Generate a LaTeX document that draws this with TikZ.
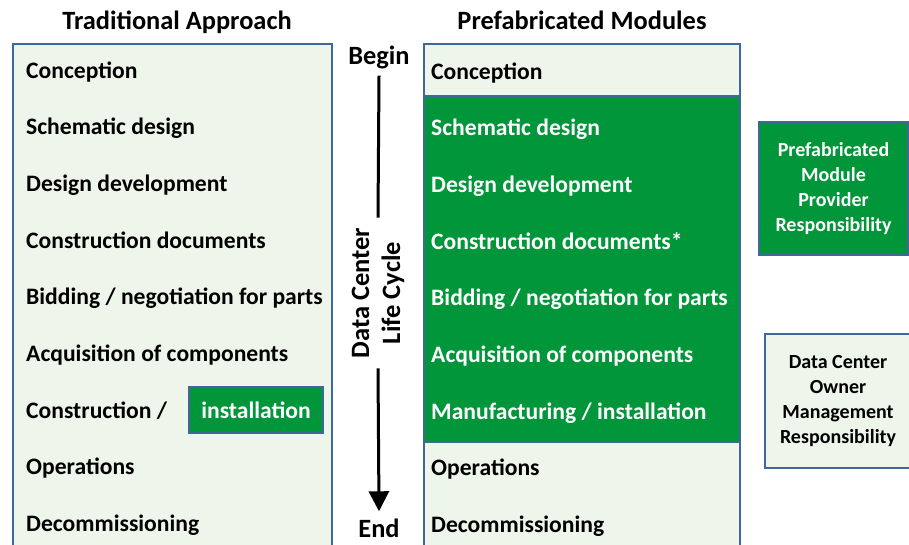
\documentclass[tikz,border=0pt]{standalone}
\usepackage{fontspec}
\setmainfont{Carlito}
\usetikzlibrary{arrows.meta, positioning}
\definecolor{modgreen}{RGB}{0,150,57}
\definecolor{modlight}{RGB}{238,245,234}
\definecolor{modblue}{RGB}{65,102,154}

\begin{document}
\begin{tikzpicture}[
    x = 1pt, y = -1pt,
    panel/.style = {draw=modblue, line width=1.5pt, anchor=north west,
        inner sep=0pt},
    phase/.style = {anchor=base west, inner sep=0pt,
        font=\bfseries\fontsize{23.6}{28}\selectfont},
    heading/.style = {anchor=base, inner sep=0pt,
        font=\bfseries\fontsize{26.4}{31}\selectfont},
    party/.style = {draw=modblue, line width=1.5pt, align=center,
        inner sep=0pt, font=\bfseries\fontsize{20}{25}\selectfont}
  ]
  \useasboundingbox (0,0) rectangle (909,544);
  \clip (0,0) rectangle (909,544);

  % headings
  \node[heading] (tradtitle) at (177,29) {Traditional Approach};
  \node[heading] (prefabtitle) at (582,29) {Prefabricated Modules};

  % the two columns
  \node[panel, fill=modlight, minimum width=319, minimum height=530]
    (trad) at (12,43) {};
  \node[panel, fill=modlight, minimum width=316, minimum height=52]
    (prefabtop) at (423,43) {};
  \node[panel, fill=modgreen, minimum width=316, minimum height=346]
    (prefabmid) at (423,95) {};
  \node[panel, fill=modlight, minimum width=316, minimum height=130]
    (prefablow) at (423,441) {};

  % phases, traditional approach
  \foreach \t [count=\j from 0] in {Conception, Schematic design,
      Design development, Construction documents,
      Bidding / negotiation for parts, Acquisition of components,
      Construction /, Operations, Decommissioning}
    \node[phase] (trad\j) at (26,78+56.7*\j) {\t};

  \node[draw=modblue, line width=1.5pt, fill=modgreen, text=white,
    minimum width=134, minimum height=46, inner sep=0pt,
    font=\bfseries\fontsize{23.6}{28}\selectfont]
    (tradinst) at (256,410) {installation};

  % phases, prefabricated modules
  \foreach \t [count=\j from 0] in {Conception, Schematic design,
      Design development, Construction documents*,
      Bidding / negotiation for parts, Acquisition of components,
      Manufacturing / installation, Operations, Decommissioning}
  {
    \ifnum\j>0 \ifnum\j<7 \def\c{white}\else\def\c{black}\fi
    \else \def\c{black}\fi
    \node[phase, text=\c] (prefab\j) at (431,79+56.7*\j) {\t};
  }

  % life cycle arrow
  \node[heading, inner sep=7pt] (begin) at (379,64) {Begin};
  \node[heading] (end) at (379,537) {End};
  \node[rotate=90, align=center, inner xsep=10pt, inner ysep=0pt,
    font=\bfseries\fontsize{26.5}{31}\selectfont]
    (cycle) at (378,293) {Data Center\\Life Cycle};
  \draw[line width=3pt] (begin.south) -- (cycle.east);
  \draw[line width=3pt, -{Triangle[width=20pt, length=20pt]}]
    (cycle.west) -- ([yshift=7pt]end.north);

  % responsibilities
  \node[party, fill=modgreen, text=white, minimum width=149,
    minimum height=133] (provider) at (833.5,188.5)
    {Prefabricated\\Module\\Provider\\Responsibility};
  \node[party, fill=modlight, minimum width=146, minimum height=134]
    (owner) at (838,401)
    {Data Center\\Owner\\Management\\Responsibility};
\end{tikzpicture}
\end{document}
